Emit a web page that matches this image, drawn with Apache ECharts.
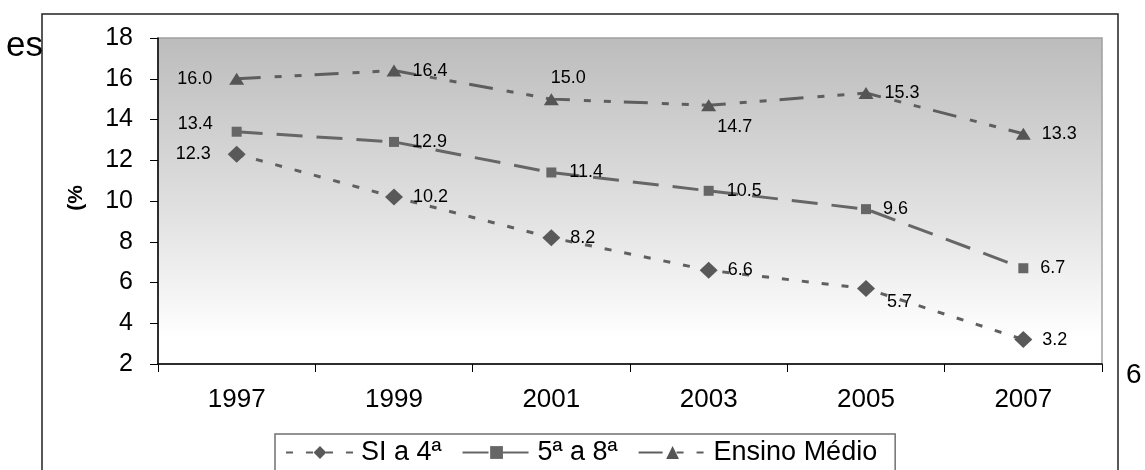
<!DOCTYPE html>
<html><head><meta charset="utf-8">
<script src="https://cdn.jsdelivr.net/npm/echarts@6/dist/echarts.min.js"></script>
<style>html,body{margin:0;padding:0;background:#fff}#c{width:1145px;height:470px}</style>
</head><body><div id="c"></div>
<script>
const years = ['1997','1999','2001','2003','2005','2007'];
const seriesNames = ['SI a 4ª', '5ª a 8ª', 'Ensino Médio'];
const siA4 = [12.3, 10.2, 8.2, 6.6, 5.7, 3.2];
const q5a8 = [13.4, 12.9, 11.4, 10.5, 9.6, 6.7];
const ensinoMedio = [16.0, 16.4, 15.0, 14.7, 15.3, 13.3];
const yTicks = [2, 18, 2]; // min, max, interval

// label placement (style only)
const siPos = [['left',[-7,0]],['right',[0,0]],['right',[0,0]],['right',[0,0]],['right',[2,13]],['right',[0,0]]];
const q5Pos = [['left',[-9,-8]],['right',[3,0]],['right',[3,0]],['right',[3,0]],['right',[2,0]],['right',[2,0]]];
const emPos = [['left',[-7,0]],['right',[1,0]],['top',[17,4]],['bottom',[26,-3]],['right',[1,0]],['right',[1,0]]];

const FONT = 'Liberation Sans, Arial, sans-serif';
function mk(vals, pos) {
  return vals.map((v, i) => ({
    value: v,
    label: { position: pos[i][0], offset: pos[i][1] }
  }));
}
const lblStyle = { show: true, color: '#000', fontSize: 18, fontFamily: FONT,
  distance: 10, formatter: p => p.value.toFixed(1) };

const chart = echarts.init(document.getElementById('c'), null, {renderer: 'canvas'});
chart.setOption({
  animation: false,
  grid: { left: 158, right: 43, top: 38, bottom: 106, show: true, containLabel: false, outerBoundsMode: 'none',
    borderColor: '#a0a0a0', borderWidth: 1.5,
    backgroundColor: new echarts.graphic.LinearGradient(0,0,0,1,[
      {offset:0,color:'#bcbcbc'},{offset:0.55,color:'#e2e2e2'},{offset:0.92,color:'#ffffff'},{offset:1,color:'#ffffff'}]) },
  xAxis: { type: 'category', data: years, boundaryGap: true,
    axisLine: { lineStyle: { color: '#000', width: 1.5 } },
    axisTick: { show: true, length: 8, lineStyle: { color: '#000' } },
    axisLabel: { color: '#000', fontSize: 26, fontFamily: FONT, margin: 23 },
    splitLine: { show: false } },
  yAxis: { type: 'value', min: yTicks[0], max: yTicks[1], interval: yTicks[2],
    axisLine: { show: true, lineStyle: { color: '#000', width: 1.5 } },
    axisTick: { show: true, length: 8, lineStyle: { color: '#000' } },
    axisLabel: { color: '#000', fontSize: 25, fontFamily: FONT, margin: 25 },
    splitLine: { show: false } },
  legend: { left: 275, top: 434, orient: 'horizontal', padding: [5, 18, 8, 10],
    borderColor: '#707070', borderWidth: 1.5, backgroundColor: '#fff',
    itemWidth: 68, itemHeight: 16, itemGap: 20,
    textStyle: { color: '#000', fontSize: 27, fontFamily: FONT, padding: [0,0,0,2] },
    data: seriesNames },
  series: [
    { name: seriesNames[0], type: 'line', data: mk(siA4, siPos),
      symbol: 'diamond', symbolSize: [18, 17],
      itemStyle: { color: '#595959' },
      lineStyle: { color: '#606060', width: 3, type: [7, 13] },
      label: lblStyle, z: 3 },
    { name: seriesNames[1], type: 'line', data: mk(q5a8, q5Pos),
      symbol: 'rect', symbolSize: 10,
      itemStyle: { color: '#666666' },
      lineStyle: { color: '#666666', width: 3, type: [26, 14] },
      label: lblStyle, z: 3 },
    { name: seriesNames[2], type: 'line', data: mk(ensinoMedio, emPos),
      symbol: 'triangle', symbolSize: [15, 12],
      itemStyle: { color: '#555555' },
      lineStyle: { color: '#5e5e5e', width: 3, type: [24, 14, 7, 13, 7, 13] },
      label: lblStyle, z: 3 }
  ],
  graphic: [
    { type: 'text', x: 43, y: 46, z: 1, style: { text: 'es', fontSize: 35, fill: '#000', fontFamily: FONT,
      textAlign: 'right', textVerticalAlign: 'middle' } },
    { type: 'rect', shape: { x: 42, y: 14, width: 1076, height: 480 }, z: 0, silent: true,
      style: { fill: null, stroke: '#222', lineWidth: 1.5 } },
    { type: 'text', x: 1126, y: 375, z: 1, style: { text: '6', fontSize: 28, fill: '#000', fontFamily: FONT,
      textVerticalAlign: 'middle' } },
    { type: 'text', x: 76, y: 198, rotation: Math.PI / 2, z: 1,
      style: { text: '(%', fontSize: 21, fontWeight: 'bold', fill: '#000', fontFamily: FONT,
        textAlign: 'center', textVerticalAlign: 'middle' } }
  ]
});
</script></body></html>
